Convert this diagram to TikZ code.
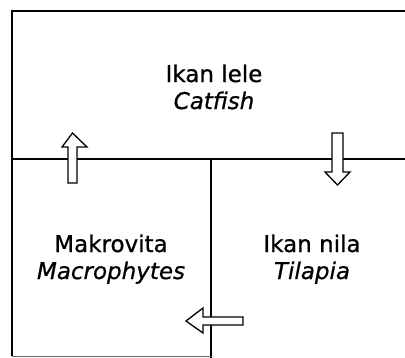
\documentclass[tikz,border=0pt]{standalone}
\usepackage{fontspec}
\setmainfont{DejaVu Sans}[FakeBold=0.8]
\begin{document}
\begin{tikzpicture}[x=1pt,y=-1pt,
  frame/.style={line width=2.2pt,black},
  fatarrow/.style={draw=black,fill=white,line width=1.3pt,line join=miter},
  lbl/.style={inner sep=0pt,anchor=base,font=\fontsize{23}{27}\selectfont}]
\useasboundingbox (0,0) rectangle (405,357);
% frame
\coordinate (tl) at (12,11);
\coordinate (tr) at (406,11);
\coordinate (ml) at (12,159);
\coordinate (mr) at (406,159);
\coordinate (mm) at (211,159);
\coordinate (bl) at (12,356);
\coordinate (bm) at (211,358);
\draw[frame] (tr) -- (tl) -- (bl);
\draw[frame] (ml) -- (mr);
\draw[frame] (mm) -- (bm);
\draw[line width=1pt,black!60] (bl) -- (211,356);
% texts
\node[lbl] (lele) at (214,82) {Ikan lele};
\node[lbl] (catfish) at (214,109) {\itshape Catfish};
\node[lbl] (makro) at (111,252) {Makrovita};
\node[lbl] (macro) at (111,279) {\itshape Macrophytes};
\node[lbl] (nila) at (312,252) {Ikan nila};
\node[lbl] (tilapia) at (312,279) {\itshape Tilapia};
% arrows
\draw[fatarrow] (68,183) -- (68,147) -- (62,147) -- (72.5,133) -- (87,147) -- (77,147) -- (77,183) -- cycle;
\draw[fatarrow] (332,133) -- (332,172) -- (325,172) -- (337.5,185) -- (350,172) -- (343,172) -- (343,133) -- cycle;
\draw[fatarrow] (243,317) -- (203,317) -- (203,308) -- (186,321) -- (203,333) -- (203,325) -- (243,325) -- cycle;
\end{tikzpicture}
\end{document}
